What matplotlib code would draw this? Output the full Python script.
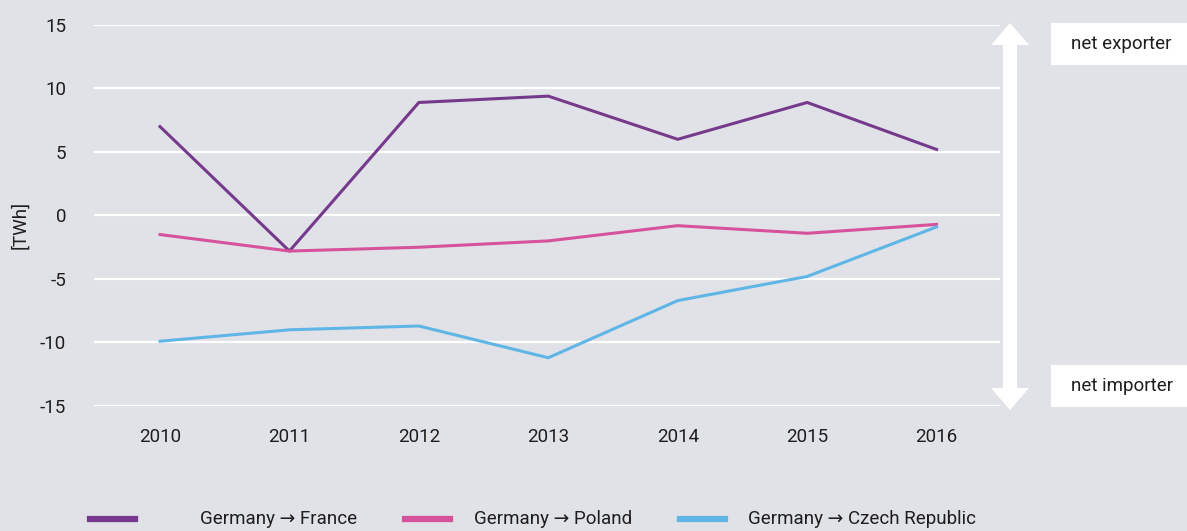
import matplotlib
matplotlib.use("Agg")
import matplotlib.pyplot as plt
import matplotlib.patches as mpatches

plt.rcParams["font.family"] = ["Roboto", "DejaVu Sans"]
plt.rcParams["axes.unicode_minus"] = False

# data
years = [2010, 2011, 2012, 2013, 2014, 2015, 2016]
france = [7.0, -2.8, 8.9, 9.4, 6.0, 8.9, 5.2]
poland = [-1.5, -2.8, -2.5, -2.0, -0.8, -1.4, -0.7]
czech = [-9.9, -9.0, -8.7, -11.2, -6.7, -4.8, -0.9]
labels = ["Germany \u2192 France", "Germany \u2192 Poland", "Germany \u2192 Czech Republic"]
colors = ["#763a8c", "#d6529b", "#5fb6e6"]

bg = "#e1e2e7"
txt = "#1e1e1e"
fs = 13.5

W, H = 1187, 531
fig = plt.figure(figsize=(W / 100, H / 100), dpi=100, facecolor=bg)
ax = fig.add_axes([94 / W, 1 - 406 / H, 906 / W, 381 / H], facecolor=bg)

for vals, lab, c in zip([france, poland, czech], labels, colors):
    ax.plot(years, vals, color=c, lw=2.2, label=lab)

ax.set_xlim(2009.49, 2016.49)
ax.set_ylim(-15, 15)
ax.set_yticks(range(-15, 16, 5))
ax.set_xticks(years)
ax.grid(axis="y", color="white", lw=1.6)
ax.set_axisbelow(True)
for s in ax.spines.values():
    s.set_visible(False)
ax.tick_params(axis="both", length=0, labelsize=fs, colors=txt)
ax.tick_params(axis="y", pad=20)
ax.tick_params(axis="x", pad=16)
fig.text(20 / W, 1 - 225 / H, "[TWh]", rotation=90, fontsize=fs, color=txt,
         ha="center", va="center")

# double arrow at the right (pixel coords, y from top)
xa, top, bot = 1010, 23, 410
sw, hw, hl = 7, 19, 22
pts = [(xa, top), (xa + hw, top + hl), (xa + sw, top + hl), (xa + sw, bot - hl),
       (xa + hw, bot - hl), (xa, bot), (xa - hw, bot - hl), (xa - sw, bot - hl),
       (xa - sw, top + hl), (xa - hw, top + hl)]
pts = [(x / W, 1 - y / H) for x, y in pts]
fig.patches.append(mpatches.Polygon(pts, closed=True, facecolor="white", edgecolor="none",
                                    transform=fig.transFigure))

# boxes with labels
for ytop, t in [(23, "net exporter"), (365, "net importer")]:
    fig.patches.append(mpatches.Rectangle((1051 / W, 1 - (ytop + 42) / H), 140 / W, 42 / H,
                                          facecolor="white", edgecolor="none",
                                          transform=fig.transFigure))
    fig.text(1071 / W, 1 - (ytop + 21) / H, t, fontsize=fs, color=txt,
             ha="left", va="center")

# legend drawn by hand
leg_line_x = [90, 405, 680]
leg_text_x = [200, 474, 748]
ly = 1 - 519 / H
for x0, xt, c, lab in zip(leg_line_x, leg_text_x, colors, labels):
    fig.add_artist(plt.Line2D([x0 / W, (x0 + 45) / W], [ly, ly], color=c, lw=4.5,
                              transform=fig.transFigure))
    fig.text(xt / W, ly, lab, fontsize=fs, color=txt, ha="left", va="center")

fig.savefig("out.png", dpi=100, facecolor=bg)
